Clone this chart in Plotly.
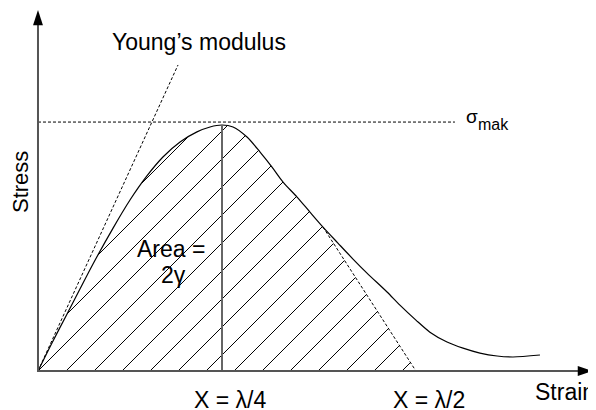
import numpy as np
import plotly.graph_objects as go

# the page body keeps its default 8px margin, so the figure is 8px smaller each way
W, H = 588, 402

# strain in units of lambda/4, stress in units of sigma_mak
strain = [0, 0.076, 0.158, 0.228, 0.299, 0.408, 0.500, 0.592, 0.679, 0.772, 0.864, 0.935, 1.0,
          1.060, 1.136, 1.207, 1.272, 1.332, 1.408, 1.478, 1.549, 1.630, 1.712, 1.788, 1.897,
          1.967, 2.054, 2.130, 2.223, 2.310, 2.402, 2.495, 2.582, 2.728]
stress = [0, 0.114, 0.232, 0.333, 0.435, 0.581, 0.695, 0.793, 0.870, 0.931, 0.972, 0.992, 1.0,
          0.992, 0.951, 0.890, 0.829, 0.768, 0.707, 0.646, 0.585, 0.520, 0.455, 0.398, 0.321,
          0.268, 0.207, 0.158, 0.118, 0.093, 0.073, 0.061, 0.057, 0.065]

young_x = [0, 0.761]
young_y = [0, 1.244]
sigma_mak = 1.012
sigma_line_end = 2.266
peak_strain = 1.0
cut_strain = 1.549      # dashed drop leaves the curve here
half_lambda = 2.054     # ...and meets the strain axis here

x_tip = 3.016
y_tip = 1.467
x_range = [-0.163, 3.0326]
y_range = [-0.1585, 1.4756]

labels = ["Young\u2019s modulus", "Stress", "Strain", "X = \u03bb/4", "X = \u03bb/2", "Area =", "2\u03b3"]

# pixel scale of the plot area (no margins)
sx = W / (x_range[1] - x_range[0])
sy = H / (y_range[1] - y_range[0])

# hatching: 45 degree lines (on screen) clipped to the area under the curve
i_cut = strain.index(cut_strain)
bx = np.array(strain[:i_cut + 1] + [half_lambda])
by = np.array(stress[:i_cut + 1] + [0])
xs = np.linspace(0, half_lambda, 4000)
top = np.interp(xs, bx, by)
slope = sx / sy
step = 28 / sx
hx, hy = [], []
for n in range(-30, 30):
    c = n * step
    ly = (xs - c) * slope
    idx = np.where((ly >= 0) & (ly <= top))[0]
    if len(idx) < 2:
        continue
    x0, x1 = xs[idx[0]], xs[idx[-1]]
    hx += [x0, x1, None]
    hy += [(x0 - c) * slope, (x1 - c) * slope, None]

fig = go.Figure()
black = dict(color="black", width=1)
dashed = dict(color="black", width=1, dash="3px,2px")

fig.add_trace(go.Scatter(x=hx, y=hy, mode="lines", line=black))
fig.add_trace(go.Scatter(x=strain, y=stress, mode="lines", line=dict(color="black", width=1.2, shape="spline", smoothing=0.8)))
fig.add_trace(go.Scatter(x=young_x, y=young_y, mode="lines", line=dashed))
fig.add_trace(go.Scatter(x=[0, sigma_line_end], y=[sigma_mak, sigma_mak], mode="lines", line=dashed))
fig.add_trace(go.Scatter(x=[cut_strain, half_lambda], y=[stress[i_cut], 0], mode="lines", line=dashed))
fig.add_trace(go.Scatter(x=[peak_strain, peak_strain], y=[0, max(stress)], mode="lines",
                         line=dict(color="#666666", width=2)))

# axes with arrow heads
head = 15
fig.add_trace(go.Scatter(x=[x_tip - head / sx, 0, 0], y=[0, 0, y_tip - head / sy], mode="lines",
                         line=dict(color="#555555", width=2)))
fig.add_trace(go.Scatter(x=[x_tip, 0], y=[0, y_tip], mode="markers",
                         marker=dict(symbol="arrow", size=16, angle=[90, 0], color="black")))

fam = "Liberation Sans, Arial"
font = dict(family=fam, size=23, color="black")
ann = [
    dict(x=0.875, y=1.337, text=labels[0]),
    dict(x=-0.098, y=0.768, text=labels[1], textangle=-90, font=dict(family=fam, size=22, color="black")),
    dict(x=2.864, y=-0.085, text=labels[2]),
    dict(x=1.043, y=-0.118, text=labels[3]),
    dict(x=2.125, y=-0.118, text=labels[4]),
    dict(x=0.723, y=0.496, text=labels[5]),
    dict(x=0.734, y=0.390, text=labels[6]),
    dict(x=2.361, y=1.033, text="\u03c3", font=dict(family=fam, size=19, color="black")),
    dict(x=2.380, y=1.004, text="mak", xanchor="left", font=dict(family=fam, size=16, color="black")),
]
for a in ann:
    a.setdefault("font", font)
    fig.add_annotation(showarrow=False, xref="x", yref="y", **a)

fig.update_layout(
    width=W, height=H,
    margin=dict(l=0, r=0, t=0, b=0),
    showlegend=False,
    plot_bgcolor="white", paper_bgcolor="white",
    xaxis=dict(range=x_range, visible=False, fixedrange=True),
    yaxis=dict(range=y_range, visible=False, fixedrange=True),
)

fig.write_html("out.html")
